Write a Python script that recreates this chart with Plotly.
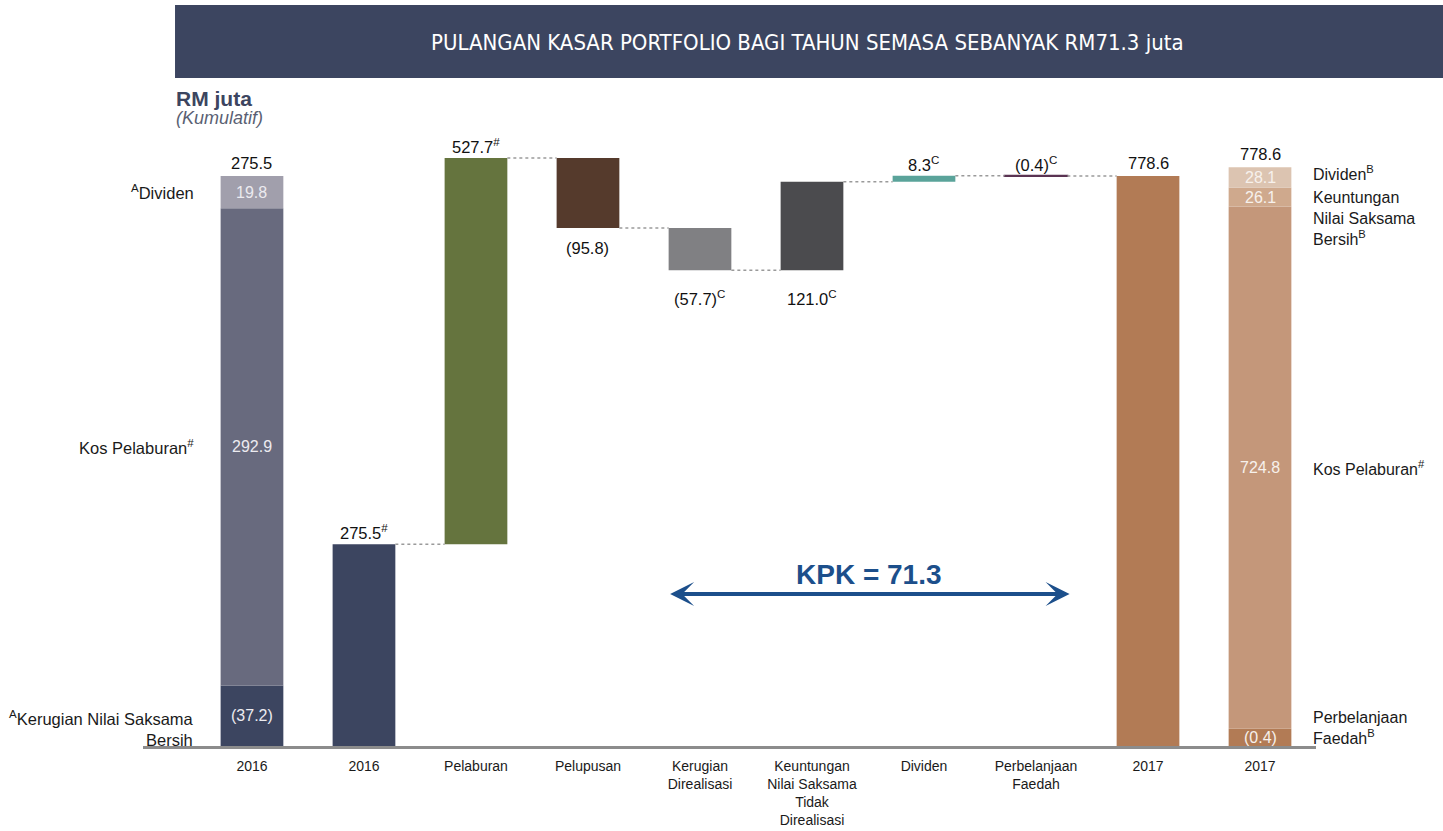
import plotly.graph_objects as go

# ---------------- data ----------------
categories = ["2016", "2016", "Pelaburan", "Pelupusan", "Kerugian<br>Direalisasi",
              "Keuntungan<br>Nilai Saksama<br>Tidak<br>Direalisasi", "Dividen",
              "Perbelanjaan<br>Faedah", "2017", "2017"]
opening_2016 = 275.5
opening_label = "275.5<sup>#</sup>"
movements = [527.7, -95.8, -57.7, 121.0, 8.3, -0.4]
movement_labels = ["527.7<sup>#</sup>", "(95.8)", "(57.7)<sup>C</sup>", "121.0<sup>C</sup>",
                   "8.3<sup>C</sup>", "(0.4)<sup>C</sup>"]
closing_2017 = 778.6
closing_label = "778.6"

breakdown_2016_values = [-37.2, 292.9, 19.8]          # bottom -> top
breakdown_2016_texts = ["(37.2)", "292.9", "19.8"]
breakdown_2016_names = ["<sup>A</sup>Kerugian Nilai Saksama<br>Bersih",
                        "Kos Pelaburan<sup>#</sup>", "<sup>A</sup>Dividen"]
breakdown_2016_total = "275.5"

breakdown_2017_values = [-0.4, 724.8, 26.1, 28.1]     # bottom -> top
breakdown_2017_texts = ["(0.4)", "724.8", "26.1", "28.1"]
breakdown_2017_names = ["Perbelanjaan<br>Faedah<sup>B</sup>", "Kos Pelaburan<sup>#</sup>",
                        "Keuntungan<br>Nilai Saksama<br>Bersih<sup>B</sup>", "Dividen<sup>B</sup>"]
breakdown_2017_total = "778.6"

kpk_label = "KPK = 71.3"
title_text = "PULANGAN KASAR PORTFOLIO BAGI TAHUN SEMASA SEBANYAK RM71.3 juta"

# ---------------- styles ----------------
NAVY = "#3c4560"
movement_colors = ["#65743e", "#553a2c", "#808083", "#4b4b4e", "#5aa39a", "#5a3352"]
movement_label_side = ["above", "below", "below", "below", "above", "above"]
movement_label_shift = [0, -9, -16, -16, 0, 0]
colors_2016 = [NAVY, "#686a7e", "#a19fac"]
colors_2017 = ["#b27b55", "#c4977a", "#cfa98d", "#dcc4b1"]
TOTAL_COLOR = "#b27b55"
FONT = "Liberation Sans, Arial, Helvetica, sans-serif"
W = 0.56
YTOP = 814
MIN_SEG = 24

xpos = list(range(len(categories)))
fig = go.Figure()
ann = []

# ---- 2016 breakdown bar (own axis y2, fills full height) ----
b = 0
seg_2016 = []
for v, c in zip(breakdown_2016_values, colors_2016):
    h = abs(v)
    fig.add_trace(go.Bar(x=[xpos[0]], y=[h], base=[b], width=W, marker_color=c,
                         marker_line_width=0, yaxis="y2", hoverinfo="skip"))
    seg_2016.append((b, b + h))
    b += h
R2 = b * YTOP / closing_2017
for (lo, hi), t, n in zip(seg_2016, breakdown_2016_texts, breakdown_2016_names):
    mid = (lo + hi) / 2
    ann.append(dict(x=xpos[0], y=mid, yref="y2", text=t, showarrow=False,
                    font=dict(size=16, color="#ecebf0")))
    multi = "<br>" in n
    ann.append(dict(x=xpos[0] - 0.5, y=mid, yref="y2", text=n, showarrow=False,
                    xanchor="right", align="right", yanchor="top" if multi else "middle",
                    yshift=10 if multi else 0, font=dict(size=16.5, color="#1a1a1a")))
ann.append(dict(x=xpos[0], y=b, yref="y2", text=breakdown_2016_total, showarrow=False,
                yanchor="bottom", yshift=2, font=dict(size=16.5, color="#111")))

# ---- 2016 opening bar ----
fig.add_trace(go.Bar(x=[xpos[1]], y=[opening_2016], base=[0], width=W, marker_color=NAVY,
                     marker_line_width=0, hoverinfo="skip"))
ann.append(dict(x=xpos[1], y=opening_2016, text=opening_label, showarrow=False,
                yanchor="bottom", yshift=0, font=dict(size=16.5, color="#111")))

# ---- movements ----
levels = [opening_2016]
cum = opening_2016
for i, (m, c, lab, side, sh) in enumerate(zip(movements, movement_colors, movement_labels,
                                              movement_label_side, movement_label_shift)):
    x = xpos[2 + i]
    fig.add_trace(go.Bar(x=[x], y=[m], base=[cum], width=W, marker_color=c,
                         marker_line=dict(width=2 if abs(m) < 2 else 0, color=c),
                         hoverinfo="skip"))
    top, bot = max(cum, cum + m), min(cum, cum + m)
    if side == "above":
        ann.append(dict(x=x, y=top, text=lab, showarrow=False, yanchor="bottom", yshift=sh,
                        font=dict(size=16.5, color="#111")))
    else:
        ann.append(dict(x=x, y=bot, text=lab, showarrow=False, yanchor="top", yshift=sh,
                        font=dict(size=16.5, color="#111")))
    cum += m
    levels.append(cum)

# ---- 2017 closing bar ----
fig.add_trace(go.Bar(x=[xpos[8]], y=[closing_2017], base=[0], width=W, marker_color=TOTAL_COLOR,
                     marker_line_width=0, hoverinfo="skip"))
ann.append(dict(x=xpos[8], y=closing_2017, text=closing_label, showarrow=False,
                yanchor="bottom", yshift=2, font=dict(size=16.5, color="#111")))

# ---- connectors ----
cx, cy = [], []
for k, lvl in enumerate(levels):
    cx += [xpos[1 + k] + W / 2, xpos[2 + k] - W / 2, None]
    cy += [lvl, lvl, None]
fig.add_trace(go.Scatter(x=cx, y=cy, mode="lines", hoverinfo="skip",
                         line=dict(color="#9a9a9a", width=1.5, dash="3px,3px")))

# ---- 2017 breakdown bar (own axis y3) ----
b = 0
seg_2017 = []
for v, c in zip(breakdown_2017_values, colors_2017):
    h = max(abs(v), MIN_SEG)
    fig.add_trace(go.Bar(x=[xpos[9]], y=[h], base=[b], width=W, marker_color=c,
                         marker_line_width=0, yaxis="y3", hoverinfo="skip"))
    seg_2017.append((b, b + h))
    b += h
R3 = b * 1.03
name_shift = [9, 0, 10, 4]
for (lo, hi), t, n, sh in zip(seg_2017, breakdown_2017_texts, breakdown_2017_names, name_shift):
    mid = (lo + hi) / 2
    ann.append(dict(x=xpos[9], y=mid, yref="y3", text=t, showarrow=False,
                    font=dict(size=16, color="#f7f1ec")))
    many = n.count("<br>") >= 2
    ann.append(dict(x=xpos[9] + 0.455, y=mid, yref="y3", text=n, showarrow=False,
                    xanchor="left", align="left", yanchor="top" if many else "middle",
                    yshift=sh, font=dict(size=16, color="#1a1a1a")))
ann.append(dict(x=xpos[9], y=b, yref="y3", text=breakdown_2017_total, showarrow=False,
                yanchor="bottom", yshift=2, font=dict(size=16.5, color="#111")))

# ---- KPK arrow ----
ARROW = "#1c4f8b"
ay_val = 207.6
ann.append(dict(x=7.30, y=ay_val, ax=3.72, ay=ay_val, xref="x", yref="y", axref="x", ayref="y",
                text="", showarrow=True, arrowhead=3, arrowside="end+start", arrowsize=1.0,
                arrowwidth=4, arrowcolor=ARROW))
ann.append(dict(x=(7.30 + 3.72) / 2, y=ay_val, text="<b>" + kpk_label + "</b>", showarrow=False,
                yanchor="bottom", yshift=2, font=dict(size=28, color=ARROW)))

# ---- header texts ----
ann.append(dict(xref="paper", yref="paper", x=0.5669, y=1.1812, xanchor="center", yanchor="middle",
                text=title_text, showarrow=False,
                font=dict(size=22, color="white",
                          family="DejaVu Sans Condensed, Liberation Sans Narrow, Arial Narrow, sans-serif")))
ann.append(dict(xref="paper", yref="paper", x=0.0264, y=1.0872, xanchor="left", yanchor="middle",
                text="<b>RM juta</b>", showarrow=False, font=dict(size=21, color=NAVY)))
ann.append(dict(xref="paper", yref="paper", x=0.0264, y=1.0537, xanchor="left", yanchor="middle",
                text="<i>(Kumulatif)</i>", showarrow=False, font=dict(size=18, color="#5a5f73")))

fig.update_layout(
    width=1443, height=831, autosize=False,
    margin=dict(l=143, r=127, t=150, b=85),
    paper_bgcolor="white", plot_bgcolor="white",
    barmode="overlay", showlegend=False,
    font=dict(family=FONT, color="#1a1a1a"),
    shapes=[dict(type="rect", xref="paper", yref="paper", x0=0.0273, x1=1.1083, y0=1.1208, y1=1.2433,
                 fillcolor=NAVY, line_width=0, layer="below")],
    annotations=ann,
    xaxis=dict(range=[-0.973, 9.5], tickmode="array", tickvals=xpos, ticktext=categories,
               showgrid=False, zeroline=False, showline=True, linecolor="#8c8c8c", linewidth=3,
               ticks="outside", ticklen=5, tickcolor="rgba(0,0,0,0)", automargin=False,
               tickfont=dict(size=14, color="#1a1a1a", family=FONT), fixedrange=True),
    yaxis=dict(range=[0, YTOP], visible=False, fixedrange=True, automargin=False),
    yaxis2=dict(range=[0, R2], visible=False, overlaying="y", fixedrange=True),
    yaxis3=dict(range=[0, R3], visible=False, overlaying="y", fixedrange=True),
)

post = ("document.documentElement.style.overflow='hidden';"
        "document.body.style.overflow='hidden';"
        "document.body.style.margin='0';document.body.style.padding='0';")
fig.write_html("out.html", post_script=post, config={"displayModeBar": False, "responsive": False})
